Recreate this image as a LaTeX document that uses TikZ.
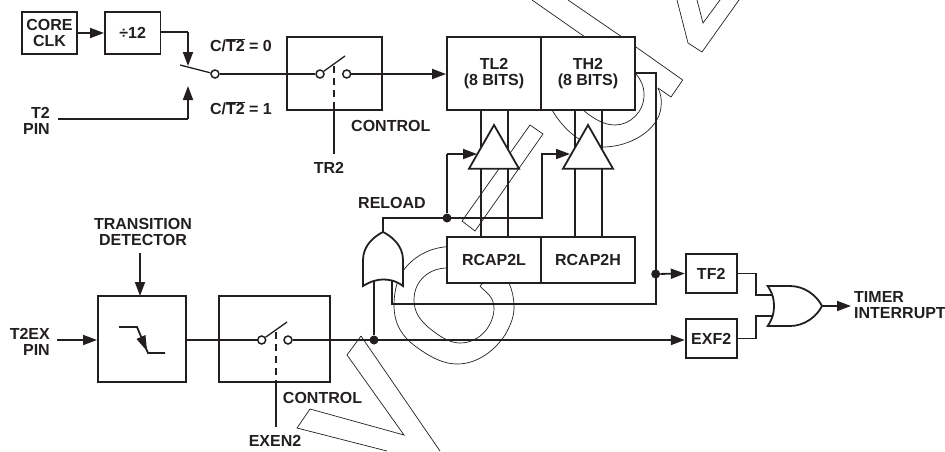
\documentclass[tikz,border=0pt]{standalone}
\usepackage{fontspec}
\setmainfont{Liberation Sans}
\usetikzlibrary{arrows.meta,positioning}
\definecolor{ink}{HTML}{231F20}
\newcommand{\ovbar}[1]{$\overline{\hbox{#1}}$}
\tikzset{
  x=1pt,y=-1pt,
  every node/.style={text=ink},
  ink line/.style={draw=ink,line width=1.8pt,line cap=butt,line join=miter},
  wire/.style={ink line},
  arrowed/.style={ink line,-{Triangle[length=14pt,width=10pt]}},
  ghost/.style={draw=ink,line width=0.7pt,line join=miter},
  labeltext/.style={font=\fontsize{16}{16}\selectfont\bfseries,inner sep=0pt,align=center},
  labelright/.style={labeltext,align=right,anchor=east},
  labelleft/.style={labeltext,align=left,anchor=west},
  blockbox/.style={draw=ink,line width=1.8pt,fill=white,inner sep=0pt,font=\fontsize{16}{16}\selectfont\bfseries,align=center},
  openpin/.style={circle,draw=ink,line width=1.5pt,fill=white,minimum size=8pt,inner sep=0pt},
  junction/.style={circle,fill=ink,minimum size=9pt,inner sep=0pt},
  buffer/.style={draw=ink,line width=1.8pt,fill=white,line join=miter},
  gate/.style={draw=ink,line width=1.8pt,fill=white,line join=miter}
}
\begin{document}
\begin{tikzpicture}
\useasboundingbox (0,0) rectangle (945,451);
% --- thin background outlines
\draw[ghost] (532,0) -- (585,37);
\draw[ghost] (568,0) -- (622,37);
\draw[ghost] (636,47) -- (682.7,80) -- (671,97) -- (658,88);
\draw[ghost] (677,0) -- (688,43) -- (702,52) -- (739,0);
\draw[ghost] (697,0) -- (703,23) -- (720,0);
\draw[ghost] (530,125) -- (543,134) -- (475,231) -- (462,221) -- cycle;
\draw[ghost] (658,88) .. controls (661,95) and (662,100) .. (661,107)
  .. controls (659,130) and (630,147) .. (603,147)
  .. controls (585,147) and (565,132) .. (552,110);
\draw[ghost] (636,74) .. controls (641,80) and (644,86) .. (644,95)
  .. controls (644,112) and (630,125) .. (615,125)
  .. controls (605,125) and (595,120) .. (583,110);
\draw[ghost] (447,246.7) .. controls (428,248) and (412,258) .. (403,271)
  .. controls (398,278) and (394,290) .. (394,305)
  .. controls (394,325) and (403,337) .. (415,346)
  .. controls (430,357) and (443,364) .. (457,364)
  .. controls (478,364) and (495,350) .. (505,335)
  .. controls (512,323) and (514,315) .. (514,307)
  .. controls (514,298) and (512,290) .. (509,283);
\draw[ghost] (447,268) .. controls (430,268) and (414,280) .. (414,300)
  .. controls (414,312) and (420,320) .. (428,327)
  .. controls (440,337) and (450,343) .. (460,343)
  .. controls (480,343) and (494,325) .. (494,308)
  .. controls (494,296) and (485,292) .. (480,286) -- (483,283);
\draw[ghost] (361,336) -- (347,355) -- (404,435) -- (310,409) -- (297,428) -- (387,451);
\draw[ghost] (361,336) -- (440,451);

% --- blocks
\node[blockbox,minimum width=55pt,minimum height=42pt] (core) at (49.5,33) {CORE\\CLK};
\node[blockbox,minimum width=55.5pt,minimum height=42pt] (div) at (132.7,33) {÷12};
\node[blockbox,minimum width=95pt,minimum height=73pt] (ctl1) at (334.5,73.5) {};
\node[blockbox,minimum width=94pt,minimum height=73pt] (tl2) at (494,73.5) {TL2\\(8 BITS)};
\node[blockbox,minimum width=94pt,minimum height=73pt] (th2) at (588,73.5) {TH2\\(8 BITS)};
\node[blockbox,minimum width=94pt,minimum height=46pt] (rl) at (494,260) {RCAP2L};
\node[blockbox,minimum width=94pt,minimum height=46pt] (rh) at (588,260) {RCAP2H};
\node[blockbox,minimum width=88pt,minimum height=86pt] (det) at (142,339) {};
\node[blockbox,minimum width=111.5pt,minimum height=86pt] (ctl2) at (274.5,339) {};
\node[blockbox,minimum width=51pt,minimum height=39pt] (tf) at (711.2,273.5) {TF2};
\node[blockbox,minimum width=51pt,minimum height=39pt] (exf) at (711.2,338.5) {EXF2};

% --- pins and named points
\node[openpin] (p1) at (215,74) {};
\node[openpin] (p2) at (320,74) {};
\node[openpin] (p3) at (346.7,74) {};
\node[openpin] (p4) at (261.7,340) {};
\node[openpin] (p5) at (288,340) {};
\coordinate (throwtop) at (188,66);
\coordinate (throwbot) at (188,86);
\coordinate (armend) at (180,65);
\coordinate (t2start) at (58,119);
\coordinate (t2corner) at (188,119);
\coordinate (divcorner) at (188,32);
\coordinate (tr2end) at (334,154);
\coordinate (tr2top) at (334,110);
\coordinate (tr2dash) at (334,66);
\coordinate (arm1) at (345,56);
\coordinate (arm2) at (287,322);
\coordinate (ex2end) at (276,427);
\coordinate (ex2top) at (276,382);
\coordinate (ex2dash) at (276,332);
\coordinate (tdstart) at (140,253);
\coordinate (tdend) at (140,296);
\coordinate (t2exstart) at (57,340);
\coordinate (t2exend) at (97,340);

% --- top switch path
\draw[arrowed] (core.east) -- (div.west);
\draw[wire] (div.east |- divcorner) -- (divcorner);
\draw[arrowed] (divcorner) -- (throwtop);
\draw[wire] (t2start) -- (t2corner);
\draw[arrowed] (t2corner) -- (throwbot);
\draw[wire,line width=1.3pt] (armend) -- (p1);
\draw[wire] (p1) -- (p2);
\draw[wire,line width=1.3pt] (p2) -- (arm1);
\draw[wire,dash pattern=on 7pt off 5pt] (tr2dash) -- (tr2top);
\draw[wire] (tr2top) -- (tr2end);
\draw[arrowed] (p3) -- (p3 -| tl2.west);

% --- counter / capture buses
\coordinate (a1) at (481,110);  \coordinate (a2) at (507.7,110);
\coordinate (b1) at (575,110);  \coordinate (b2) at (601.7,110);
\coordinate (a1b) at (481,237); \coordinate (a2b) at (507.7,237);
\coordinate (b1b) at (575,237); \coordinate (b2b) at (601.7,237);
\draw[wire] (a1) -- (a1b);
\draw[wire] (a2) -- (a2b);
\draw[wire] (b1) -- (b1b);
\draw[wire] (b2) -- (b2b);
\draw[buffer] (494,125) -- (519,168.7) -- (469,168.7) -- cycle;
\draw[buffer] (588,125) -- (613,168.7) -- (563,168.7) -- cycle;

% --- reload gate
\draw[gate] (363,286) -- (363,260) .. controls (363,245) and (375,236) .. (383,232)
  .. controls (391,236) and (403,245) .. (403,260) -- (403,286)
  .. controls (395,280) and (388,279.5) .. (383,279.5)
  .. controls (378,279.5) and (371,281) .. (363,286) -- cycle;
\coordinate (rgout) at (383,232);
\coordinate (rgcorner) at (383,218);
\coordinate (rgin1) at (374,280);
\coordinate (rgin2) at (392,281);
\node[junction] (jreload) at (447,218) {};
\node[junction] (jmain) at (374,340) {};
\node[junction] (jtf) at (655.7,274) {};
\coordinate (brr) at (542,218);
\coordinate (brrt) at (542,154);
\coordinate (brlt) at (447,154);
\coordinate (tip1) at (477,154);
\coordinate (tip2) at (570,154);
\draw[wire] (rgout) -- (rgcorner) -- (brr) -- (brrt) -- +(0.5,0);
\draw[arrowed] (brrt) -- (tip2);
\draw[wire] (jreload) -- (brlt);
\draw[arrowed] (brlt) -- (tip1);
\draw[wire] (rgin1) -- (jmain);

% --- overflow feedback
\coordinate (fbtop) at (655.7,73);
\coordinate (fbbot) at (655.7,304);
\coordinate (fbleft) at (392,304);
\draw[wire] (th2.east |- fbtop) -- (fbtop) -- (fbbot) -- (fbleft) -- (rgin2);
\draw[arrowed] (jtf) -- (tf.west);

% --- lower path
\draw[arrowed] (t2exstart) -- (t2exend);
\draw[arrowed] (tdstart) -- (tdend);
\draw[wire] (det.east |- p4) -- (p4);
\draw[wire,line width=1.3pt] (p4) -- (arm2);
\draw[wire,dash pattern=on 7pt off 5pt] (ex2dash) -- (ex2top);
\draw[wire] (ex2top) -- (ex2end);
\draw[arrowed] (p5) -- (p5 -| exf.west);
% falling edge symbol
\coordinate (fa) at (119,327); \coordinate (fb) at (137,327);
\coordinate (fc) at (148,353); \coordinate (fd) at (165,353);
\draw[wire] (fa) -- (fb) -- (fc) -- (fd);
\path[fill=ink] (147,351) -- (136.5,339) -- (145.5,335) -- cycle;

% --- output gate
\draw[gate] (767.7,286) -- (790,286) .. controls (805,286) and (817,296) .. (822,306)
  .. controls (817,316) and (805,326) .. (790,326) -- (767.7,326)
  .. controls (773,318) and (774,312) .. (774,306)
  .. controls (774,300) and (773,294) .. (767.7,286) -- cycle;
\coordinate (ogin1) at (772,295);
\coordinate (ogin2) at (772,316);
\coordinate (ogout) at (822,306);
\coordinate (ogtip) at (851,306);
\coordinate (k1) at (755.7,273.5);
\coordinate (k2) at (755.7,338.5);
\draw[wire] (tf.east) -- (k1) -- (k1 |- ogin1) -- (ogin1);
\draw[wire] (exf.east) -- (k2) -- (k2 |- ogin2) -- (ogin2);
\draw[arrowed] (ogout) -- (ogtip);

% --- labels
\node[labeltext] (l0) at (241,45) {C/\ovbar{T2} = 0};
\node[labeltext] (l1) at (241,108) {C/\ovbar{T2} = 1};
\node[labelright] (t2pin) at (50,121) {T2\\PIN};
\node[labelleft] (lc1) at (351,126) {CONTROL};
\node[labeltext] (ltr2) at (329,168) {TR2};
\node[labeltext] (lrel) at (392,203) {RELOAD};
\node[labeltext] (ltd) at (143,232) {TRANSITION\\DETECTOR};
\node[labelright] (t2ex) at (50,342) {T2EX\\PIN};
\node[labeltext] (lc2) at (322.5,397.5) {CONTROL};
\node[labeltext] (lex) at (275,441) {EXEN2};
\node[labelleft] (lint) at (854,305) {TIMER\\INTERRUPT};
\end{tikzpicture}
\end{document}
